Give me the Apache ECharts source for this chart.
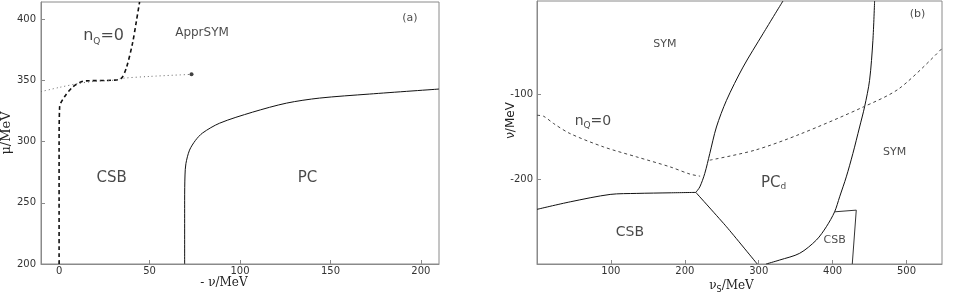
<!DOCTYPE html>
<html><head><meta charset="utf-8">
<script src="https://cdn.jsdelivr.net/npm/echarts@6/dist/echarts.min.js"></script>
<style>html,body{margin:0;padding:0;background:#fff}#c{width:975px;height:297px}</style>
</head><body><div id="c"></div>
<script>
// ---------- Panel (a) data ----------
const aTicksX = [0, 50, 100, 150, 200];
const aTicksY = [200, 250, 300, 350, 400];
const aNq0 = [[0,200],[0,250],[0,295.5],[0.3,328.4],[3.0,336.6],[7.6,344.7],[12.3,348.8],[15,349.6],[30.7,350.2],[34.5,351.8],[37.3,360.8],[40.6,380.4],[42.8,399],[44.5,414]];
const aDotted = [[-10,340.8],[0,344.2],[11.3,347.6],[20,349.2],[30.7,350.2],[34.5,351.6],[50,353.2],[73.2,354.9]];
const aPC = [[69.4,200],[69.4,252],[69.6,272.7],[70.1,282],[72.1,293],[75.4,301],[79.3,307],[88.7,315],[106.9,324],[125.7,331.4],[143.9,335.5],[171.5,338.8],[210,342.9]];
const aEndDot = [[73.2,354.9]];

// ---------- Panel (b) data ----------
const bTicksX = [100, 200, 300, 400, 500];
const bTicksY = [-200, -100];
const bSymLeft = [[332.8,10],[305.8,-28.6],[278.8,-67.9],[256.4,-107.1],[242.8,-138.5],[233.8,-169.8],[227,-193.3],[220.3,-209.1],[214.9,-215.6]];
const bCsbTop = [[0,-235.6],[45,-226.7],[99,-218],[135,-216.8],[180,-216.1],[214.9,-215.6]];
const bTripleDown = [[214.9,-215.6],[256.4,-256.1],[298,-300]];
const bRight = [[310,-300],[328.4,-295.3],[355.4,-287.4],[378,-271.8],[391.5,-256.1],[402.7,-238.5],[409.5,-220.8],[418.5,-197.3],[427.4,-169.8],[436.5,-138.5],[443.2,-114.9],[450,-83.5],[454.5,-36.5],[456.8,10]];
const bCsbBox = [[402.7,-238.5],[432,-236.5],[426.6,-300]];
const bNqLeft = [[0,-124.7],[9,-125.9],[22.6,-134.5],[44.6,-146.2],[90.1,-162],[135,-173.8],[180,-185.5],[207.2,-194.1],[220.7,-196.5]];
const bNqRight = [[233.8,-177.6],[294.6,-165.9],[355.4,-147.1],[440.5,-115.3],[490.5,-92.9],[548,-45.9]];

// ---------- Annotations (text, data coords) ----------
const aLabels = [
  {value:[24.6,386.1], text:'n{sub|Q}{big|=0}', size:16},
  {value:[79,388.6], text:'ApprSYM', size:12},
  {value:[193.9,401.2], text:'(a)', size:11},
  {value:[29,270.2], text:'CSB', size:15},
  {value:[137.3,270.2], text:'PC', size:15}
];
const bLabels = [
  {value:[173,-41.2], text:'SYM', size:11},
  {value:[75.7,-131.8], text:'n{subs|Q}{mid|=0}', size:14},
  {value:[514.9,-5.9], text:'(b)', size:11},
  {value:[483.8,-168.2], text:'SYM', size:11},
  {value:[320,-204.7], text:'PC{subs|d}', size:15},
  {value:[125.7,-262.4], text:'CSB', size:14},
  {value:[402.7,-271.8], text:'CSB', size:11}
];

const SANS = 'DejaVu Sans';
const SERIF = 'DejaVu Serif';
const axisCol = '#8a8a8a';
const tickLbl = {fontFamily:SANS, fontSize:10, color:'#333'};

function lineSeries(data, xi, style, smooth){
  return {type:'line', xAxisIndex:xi, yAxisIndex:xi, data:data, showSymbol:false, symbol:'none',
    smooth: smooth, lineStyle:style, silent:true, clip:true, z:3};
}
function labelSeries(list, xi){
  return {type:'scatter', xAxisIndex:xi, yAxisIndex:xi, symbolSize:0, silent:true, z:5,
    data: list.map(l => ({value:l.value, label:{show:true, position:'inside', formatter:l.text,
      fontFamily:SANS, fontSize:l.size, color:'#1a1a1a',
      rich:{sub:{fontSize:9, fontFamily:SANS, color:'#1a1a1a', verticalAlign:'bottom', padding:[10,0,0,0]},
            big:{fontSize:l.size, fontFamily:SANS, color:'#1a1a1a'},
            subs:{fontSize:9, fontFamily:SANS, color:'#1a1a1a', verticalAlign:'bottom', padding:[8,0,0,0]},
            mid:{fontSize:l.size, fontFamily:SANS, color:'#1a1a1a'}}}}))};
}
function valAxis(gi, min, max, ticks, margin, extra){
  return Object.assign({type:'value', gridIndex:gi, min:min, max:max,
    axisLine:{show:true, onZero:false, lineStyle:{color:axisCol, width:1}},
    axisTick:{show:true, inside:true, length:4, customValues:ticks, lineStyle:{color:axisCol}},
    axisLabel:Object.assign({show:true, customValues:ticks, margin:margin}, tickLbl),
    splitLine:{show:false}, nameMoveOverlap:false}, extra||{});
}

const chart = echarts.init(document.getElementById('c'), null, {renderer:'canvas'});
chart.setOption({
  animation:false,
  backgroundColor:'#fff',
  grid:[
    {left:41, top:2, width:398, height:262, show:true, borderColor:axisCol, borderWidth:1, containLabel:false, outerBoundsMode:'none'},
    {left:537, top:1, width:405, height:263, show:true, borderColor:axisCol, borderWidth:1, containLabel:false, outerBoundsMode:'none'}
  ],
  xAxis:[
    valAxis(0, -10, 210, aTicksX, 2, {name:'- ν/MeV', nameLocation:'middle', nameGap:13,
      nameTextStyle:{fontFamily:SERIF, fontSize:12, color:'#222', padding:[0,32,0,0]}}),
    valAxis(1, 0, 548, bTicksX, 2, {name:'ν{s|S}/MeV', nameLocation:'middle', nameGap:14,
      nameTextStyle:{fontFamily:SERIF, fontSize:12, color:'#222', padding:[0,16,0,0],
        rich:{s:{fontFamily:SANS, fontSize:8, color:'#222', verticalAlign:'bottom', padding:[8,0,0,0]}}}})
  ],
  yAxis:[
    valAxis(0, 200, 414, aTicksY, 5, {name:'μ/MeV', nameLocation:'middle', nameGap:28,
      nameTextStyle:{fontFamily:SERIF, fontSize:13, color:'#222'}}),
    valAxis(1, -300, 10, bTicksY, 4, {name:'ν/MeV', nameLocation:'middle', nameGap:20,
      nameTextStyle:{fontFamily:SANS, fontSize:12, color:'#222', padding:[0,0,0,24]}})
  ],
  series:[
    lineSeries(aNq0, 0, {color:'#111', width:1.6, type:[4,3]}, 0.3),
    lineSeries(aDotted, 0, {color:'#666', width:1, type:[1,3]}, 0.3),
    lineSeries(aPC, 0, {color:'#111', width:1}, 0.3),
    {type:'scatter', xAxisIndex:0, yAxisIndex:0, data:aEndDot, symbolSize:4, itemStyle:{color:'#111'}, silent:true, z:4},
    labelSeries(aLabels, 0),
    lineSeries(bSymLeft, 1, {color:'#111', width:1}, 0.3),
    lineSeries(bCsbTop, 1, {color:'#111', width:1}, 0.3),
    lineSeries(bTripleDown, 1, {color:'#111', width:1}, 0.2),
    lineSeries(bRight, 1, {color:'#111', width:1}, 0.3),
    lineSeries(bCsbBox, 1, {color:'#333', width:1}, false),
    lineSeries(bNqLeft, 1, {color:'#444', width:1, type:[3,3]}, 0.3),
    lineSeries(bNqRight, 1, {color:'#444', width:1, type:[3,3]}, 0.3),
    labelSeries(bLabels, 1)
  ]
});
</script></body></html>
